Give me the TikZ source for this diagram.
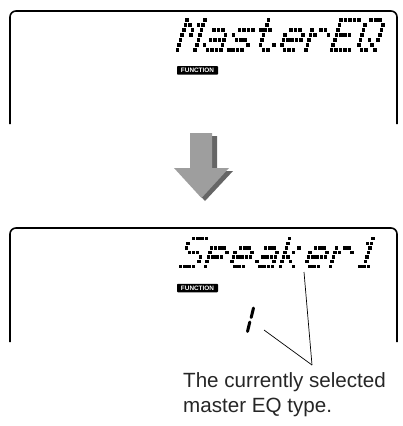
\documentclass[tikz,border=0pt]{standalone}
\usepackage{fontspec}
\setmainfont{Liberation Sans}
\def\dmbit#1#2{\ifnum#1=1 \fill (\dmx+#2*\dmhp+\dmsl*\dmvp*6-\dmsl*\dmvp*\ri, \dmy+\ri*\dmvp) rectangle ++(\dmd,\dmd);\fi}
\def\dmrow#1#2#3#4#5\relax{\dmbit{#1}{0}\dmbit{#2}{1}\dmbit{#3}{2}\dmbit{#4}{3}\dmbit{#5}{4}}
\newcommand\dmglyph[2]{\def\dmx{#1}\foreach \rw [count=\ri from 0] in #2 {\expandafter\dmrow\rw\relax}}
\def\gM{10001,11011,10101,10101,10001,10001,10001}
\def\ga{00000,00000,01110,00001,01111,10001,01111}
\def\gs{00000,00000,01111,10000,01110,00001,11110}
\def\gt{01000,01000,11100,01000,01000,01001,00110}
\def\ge{00000,00000,01110,10001,11111,10000,01110}
\def\gr{00000,00000,10110,11001,10000,10000,10000}
\def\gE{11111,10000,10000,11110,10000,10000,11111}
\def\gQ{01110,10001,10001,10001,10101,10010,01101}
\def\gS{01111,10000,10000,01110,00001,00001,11110}
\def\gp{00000,00000,11110,10001,11110,10000,10000}
\def\gk{10000,10000,10010,10100,11000,10100,10010}
\def\gone{00100,01100,00100,00100,00100,00100,01110}
\tikzset{
  lcdframe/.style={line width=1.6pt, rounded corners=6pt},
  badge/.style={fill=black, text=white, rounded corners=0.8pt, inner sep=0pt,
    minimum width=41pt, minimum height=8.5pt, font=\fontsize{6.4}{6.4}\selectfont\bfseries},
  caption/.style={anchor=base west, inner sep=0pt, text=black!85, font=\fontsize{20.6}{24}\selectfont},
  pointer/.style={line width=0.7pt},
  arrowbody/.style={fill=black!38},
  arrowshade/.style={fill=black!60}
}
\begin{document}
\begin{tikzpicture}[x=1pt,y=-1pt]
\useasboundingbox (0,0) rectangle (403,426);
% top display
\draw[lcdframe] (10,124) -- (10,11) -- (397,11) -- (397,124);
\def\dmhp{4.45}\def\dmvp{5.0}\def\dmd{3.6}\def\dmsl{0.32}\def\dmy{18}
\dmglyph{175.5}{\gM}
\dmglyph{201.2}{\ga}
\dmglyph{226.9}{\gs}
\dmglyph{252.6}{\gt}
\dmglyph{278.3}{\ge}
\dmglyph{304.0}{\gr}
\dmglyph{329.7}{\gE}
\dmglyph{355.4}{\gQ}
\node[badge] (f1) at (197.5,70.3) {FUNCTION};
% arrow
\fill[arrowshade] (194,136) -- (217,136) -- (217,171) -- (233,171) -- (205,201) -- (178,171) -- (194,171) -- cycle;
\fill[arrowbody] (190,133) -- (212,133) -- (212,168) -- (229,168) -- (201.5,198) -- (174,168) -- (190,168) -- cycle;
% bottom display
\draw[lcdframe] (10,342) -- (10,228) -- (397,228) -- (397,342);
\def\dmhp{4.2}\def\dmvp{4.6}\def\dmd{3.4}\def\dmsl{0.32}\def\dmy{237}
\dmglyph{179}{\gS}
\dmglyph{204}{\gp}
\dmglyph{229}{\ge}
\dmglyph{254}{\ga}
\dmglyph{279}{\gk}
\dmglyph{304}{\ge}
\dmglyph{329}{\gr}
\dmglyph{354}{\gone}
\node[badge] (f2) at (197.5,288) {FUNCTION};
% seven-segment "1"
\draw[line width=3pt, line cap=round] (253.5,308) -- (251.2,317.5);
\draw[line width=3pt, line cap=round] (249.8,322) -- (247.5,331.5);
% pointers
\coordinate (p1) at (304,272);
\coordinate (p2) at (264,330);
\coordinate (pj) at (312,365);
\draw[pointer] (p1) -- (pj);
\draw[pointer] (p2) -- (pj);
\node[caption] (c1) at (183,387) {The currently selected};
\node[caption] (c2) at (183,412) {master EQ type.};
\end{tikzpicture}
\end{document}
